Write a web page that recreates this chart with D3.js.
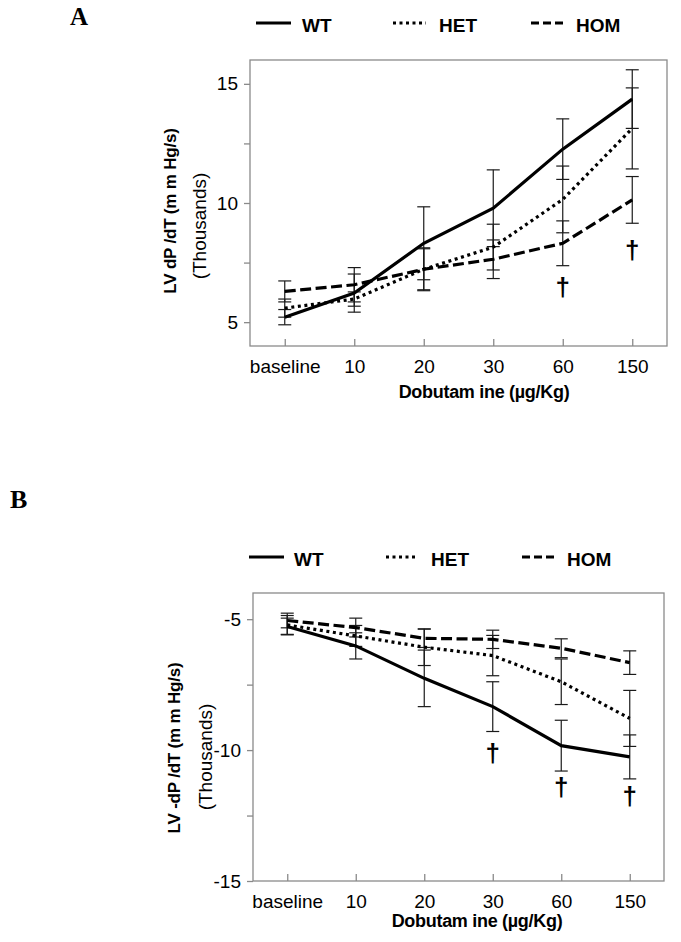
<!DOCTYPE html>
<html>
<head>
<meta charset="utf-8">
<script src="https://cdn.jsdelivr.net/npm/d3@7"></script>
<style>
  html, body { margin: 0; padding: 0; background: #fff; }
  svg { display: block; }
  text { font-family: "Liberation Sans", Arial, sans-serif; fill: #000; }
</style>
</head>
<body>
<svg id="chart" width="681" height="942"></svg>
<script>
// ---------- data ----------
const categories = ["baseline", "10", "20", "30", "60", "150"];
const seriesNames = ["WT", "HET", "HOM"];

// Panel A: LV dP/dT (thousands)
const aWT     = [5.21, 6.22, 8.31, 9.78, 12.26, 14.36];
const aWTerr  = [0.32, 0.80, 1.53, 1.61, 1.27, 1.23];
const aHET    = [5.59, 5.97, 7.22, 8.15, 10.15, 13.13];
const aHETerr = [0.38, 0.30, 0.90, 0.96, 1.40, 1.70];
const aHOM    = [6.29, 6.57, 7.22, 7.64, 8.31, 10.13];
const aHOMerr = [0.44, 0.72, 0.86, 0.81, 0.94, 0.98];
const aYTicks = [5, 7.5, 10, 12.5, 15];
const aDaggers = [{cat: "60", value: 6.42}, {cat: "150", value: 8.0}];

// Panel B: LV -dP/dT (thousands)
const bWT     = [-5.28, -6.02, -7.26, -8.34, -9.83, -10.26];
const bWTerr  = [0.32, 0.50, 1.08, 0.95, 0.97, 0.84];
const bHET    = [-5.22, -5.64, -6.07, -6.39, -7.39, -8.79];
const bHETerr = [0.36, 0.40, 0.70, 0.77, 0.87, 1.07];
const bHOM    = [-5.05, -5.32, -5.73, -5.77, -6.11, -6.66];
const bHOMerr = [0.28, 0.36, 0.35, 0.35, 0.36, 0.45];
const bYTicks = [-15, -12.5, -10, -7.5, -5];
const bDaggers = [{cat: "30", value: -10.14}, {cat: "60", value: -11.45}, {cat: "150", value: -11.79}];

const xTitle = "Dobutam ine (\u00b5g/Kg)";

// ---------- styles ----------
const dashes = { WT: null, HET: "3,3.6", HOM: "11,4.5" };
const legendDashes = { WT: null, HET: "3,3.5", HOM: "8,4" };

const svg = d3.select("#chart");

function drawPanel(p) {
  const g = svg.append("g");
  const x = d3.scalePoint().domain(categories).range([p.left, p.right]).padding(0.5);
  const y = d3.scaleLinear().domain(p.domain).range([p.bottom, p.top]);

  // panel letter
  g.append("text").attr("x", p.letterX).attr("y", p.letterY)
    .style("font-family", "'Liberation Serif', 'Times New Roman', serif")
    .style("font-weight", "bold").style("font-size", p.letterSize + "px")
    .text(p.letter);

  // legend
  const leg = p.legend;
  seriesNames.forEach((name, i) => {
    const it = leg.items[i];
    g.append("line")
      .attr("x1", it.x1).attr("x2", it.x2).attr("y1", leg.lineY).attr("y2", leg.lineY)
      .attr("stroke", "#000").attr("stroke-width", 3)
      .attr("stroke-dasharray", legendDashes[name]);
    g.append("text").attr("x", it.tx).attr("y", leg.textY)
      .style("font-weight", "bold").style("font-size", "19px").text(name);
  });

  // box
  g.append("rect").attr("x", p.left).attr("y", p.top)
    .attr("width", p.right - p.left).attr("height", p.bottom - p.top)
    .attr("fill", "none").attr("stroke", "#8a8a8a").attr("stroke-width", 1.3);

  // y axis
  const yAxis = d3.axisLeft(y).tickValues(p.yTicks).tickSize(6).tickPadding(6)
    .tickFormat(d => (d % 5 === 0 ? String(d) : ""));
  const ya = g.append("g").attr("transform", `translate(${p.left},0)`).call(yAxis);
  ya.select(".domain").remove();
  ya.selectAll(".tick line").attr("stroke", "#8a8a8a").attr("stroke-width", 1.3);
  ya.selectAll(".tick text").style("font-size", "19px")
    .style("font-family", "'Liberation Sans', Arial, sans-serif").attr("fill", "#000");

  // x axis (ticks pointing inward)
  const xAxis = d3.axisBottom(x).tickSizeInner(-7).tickSizeOuter(0).tickPadding(14);
  const xa = g.append("g").attr("transform", `translate(0,${p.bottom})`).call(xAxis);
  xa.select(".domain").remove();
  xa.selectAll(".tick line").attr("stroke", "#8a8a8a").attr("stroke-width", 1.3);
  xa.selectAll(".tick text").style("font-size", "19px")
    .style("font-family", "'Liberation Sans', Arial, sans-serif").attr("fill", "#000");

  // axis titles
  g.append("text").attr("x", p.xTitleX).attr("y", p.xTitleY)
    .attr("text-anchor", "middle").style("font-weight", "bold").style("font-size", "18px")
    .style("letter-spacing", "-0.3px").text(xTitle);

  g.append("text")
    .attr("transform", `translate(${p.yTitleX},${p.yTitleY}) rotate(-90)`)
    .attr("text-anchor", "middle").attr("dominant-baseline", "central")
    .style("font-weight", "bold").style("font-size", "17px")
    .style("letter-spacing", "-0.2px").text(p.yTitle);
  g.append("text")
    .attr("transform", `translate(${p.yUnitX},${p.yUnitY}) rotate(-90)`)
    .attr("text-anchor", "middle").attr("dominant-baseline", "central")
    .style("font-size", "19px").text("(Thousands)");

  // error bars
  const cap = 6.5;
  p.series.forEach(s => {
    s.values.forEach((v, i) => {
      const cx = x(categories[i]);
      const e = s.errs[i];
      const eg = g.append("g").attr("stroke", "#1a1a1a").attr("stroke-width", 1.2);
      eg.append("line").attr("x1", cx).attr("x2", cx).attr("y1", y(v - e)).attr("y2", y(v + e));
      eg.append("line").attr("x1", cx - cap).attr("x2", cx + cap).attr("y1", y(v + e)).attr("y2", y(v + e));
      eg.append("line").attr("x1", cx - cap).attr("x2", cx + cap).attr("y1", y(v - e)).attr("y2", y(v - e));
    });
  });

  // lines
  const line = d3.line().x((d, i) => x(categories[i])).y(d => y(d));
  p.series.forEach(s => {
    g.append("path").attr("d", line(s.values))
      .attr("fill", "none").attr("stroke", "#000").attr("stroke-width", 3.2)
      .attr("stroke-dasharray", dashes[s.name]);
  });

  // daggers
  p.daggers.forEach(d => {
    g.append("text").attr("x", x(d.cat)).attr("y", y(d.value) + 8)
      .attr("text-anchor", "middle").style("font-size", "26px").style("font-weight", "bold")
      .text("\u2020");
  });
}

drawPanel({
  letter: "A", letterX: 70, letterY: 25, letterSize: 25,
  legend: {
    lineY: 23, textY: 32,
    items: [{x1: 256, x2: 291, tx: 302}, {x1: 393, x2: 426, tx: 439}, {x1: 531, x2: 565, tx: 576}]
  },
  left: 250, right: 667, top: 60, bottom: 346,
  domain: [4, 16], yTicks: aYTicks,
  xTitleX: 484, xTitleY: 398,
  yTitle: "LV  dP /dT (m m Hg/s)", yTitleX: 170, yTitleY: 211,
  yUnitX: 199, yUnitY: 226,
  series: [
    {name: "WT", values: aWT, errs: aWTerr},
    {name: "HET", values: aHET, errs: aHETerr},
    {name: "HOM", values: aHOM, errs: aHOMerr}
  ],
  daggers: aDaggers
});

drawPanel({
  letter: "B", letterX: 10, letterY: 508, letterSize: 26,
  legend: {
    lineY: 557, textY: 566,
    items: [{x1: 249, x2: 284, tx: 294}, {x1: 386, x2: 418, tx: 431}, {x1: 522, x2: 556, tx: 567}]
  },
  left: 253, right: 664, top: 593, bottom: 881,
  domain: [-15, -4], yTicks: bYTicks,
  xTitleX: 477, xTitleY: 927,
  yTitle: "LV  -dP /dT (m m Hg/s)", yTitleX: 174, yTitleY: 748,
  yUnitX: 205, yUnitY: 757,
  series: [
    {name: "WT", values: bWT, errs: bWTerr},
    {name: "HET", values: bHET, errs: bHETerr},
    {name: "HOM", values: bHOM, errs: bHOMerr}
  ],
  daggers: bDaggers
});
</script>
</body>
</html>
